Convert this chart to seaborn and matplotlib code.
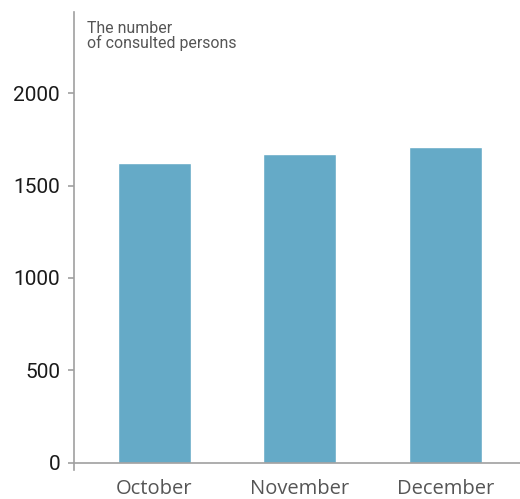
import pandas as pd
import matplotlib.pyplot as plt
import seaborn as sns

months = ["October", "November", "December"]
persons = [1620, 1670, 1710]
y_ticks = [0, 500, 1000, 1500, 2000]


def main():
    sns.set_style("white")
    df = pd.DataFrame({"month": months, "persons": persons})

    fig = plt.figure(figsize=(5.2, 4.99), dpi=100)
    ax = fig.add_axes([74 / 520, (499 - 470) / 499, 1 - 74 / 520, (470 - 12) / 499])

    sns.barplot(data=df, x="month", y="persons", color="#65aac7", width=0.5,
                saturation=1, ax=ax)

    ax.set_xlim(-0.548, 2.507)
    ax.set_ylim(-40, 2440)
    ax.set_yticks(y_ticks)
    ax.set_xlabel("")
    ax.set_ylabel("")

    for side in ["top", "right"]:
        ax.spines[side].set_visible(False)
    ax.spines["bottom"].set_position(("data", 0))
    for side in ["left", "bottom"]:
        ax.spines[side].set_color("#a0a0a0")
        ax.spines[side].set_linewidth(1.2)

    ax.tick_params(axis="y", left=True, length=4.5, width=1.2, color="#a0a0a0",
                   pad=5.5, labelsize=15, labelcolor="#1a1a1a")
    ax.tick_params(axis="x", length=0, pad=12, labelsize=14.5, labelcolor="#555555")
    for lbl in ax.get_yticklabels():
        lbl.set_family("Roboto")
    for lbl in ax.get_xticklabels():
        lbl.set_family("Open Sans")

    # label of the value axis, top left inside the plot
    fig.text(87 / 520, (499 - 21) / 499, "The number\nof consulted persons",
             family="Roboto", fontsize=11.4, color="#555555", va="top",
             linespacing=0.95)

    fig.savefig("out.png", dpi=100)
    plt.close(fig)


if __name__ == "__main__":
    main()
